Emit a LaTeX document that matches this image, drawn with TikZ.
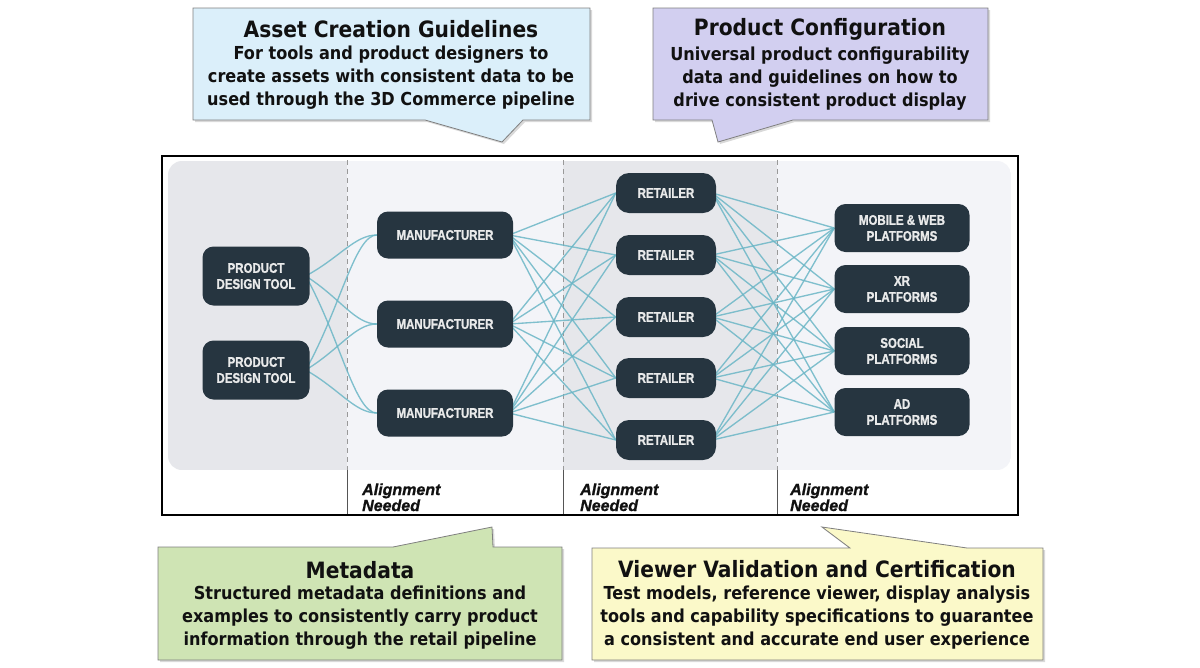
\documentclass[tikz,border=0pt]{standalone}
\usepackage{fontspec}
\setmainfont{DejaVu Sans Condensed}
\newfontfamily\nodefont{Liberation Sans Bold}[FakeBold=1.2, FakeStretch=0.82]
\newfontfamily\algnfont{Liberation Sans Bold Italic}[FakeBold=1]
\usetikzlibrary{shadows,calc}
\definecolor{nodefill}{HTML}{263540}
\definecolor{nodetext}{HTML}{E9EAEA}
\definecolor{linkc}{HTML}{6BB6C6}
\definecolor{bandA}{HTML}{E6E7EB}
\definecolor{bandB}{HTML}{F3F4F8}
\definecolor{cborder}{HTML}{7F7F7F}
\definecolor{cfillA}{HTML}{DBEFFA}
\definecolor{cfillB}{HTML}{D2CFF0}
\definecolor{cfillC}{HTML}{CFE4B4}
\definecolor{cfillD}{HTML}{FBF9C9}
\definecolor{dashc}{HTML}{999999}
\definecolor{solidc}{HTML}{555555}
\definecolor{ctext}{HTML}{111111}
\pgfdeclarelayer{panel}
\pgfdeclarelayer{edges}
\pgfsetlayers{panel,edges,main}
\begin{document}
\begin{tikzpicture}[x=1pt,y=-1pt,
  box/.style={fill=nodefill, rounded corners=11pt, text=nodetext,
    font=\nodefont\fontsize{14}{16}\selectfont, align=center, inner sep=0pt},
  pdt/.style={box, minimum width=107pt, minimum height=59pt},
  mfr/.style={box, minimum width=136pt, minimum height=47pt},
  ret/.style={box, minimum width=100pt, minimum height=40pt, rounded corners=13pt},
  plat/.style={box, minimum width=135pt, minimum height=48pt},
  link/.style={draw=linkc, line width=1.35pt, opacity=0.85},
  callout/.style={draw=cborder, line width=0.8pt,
    drop shadow={shadow xshift=2pt, shadow yshift=-2pt, opacity=0.3}},
  ctitle/.style={text=ctext, font=\bfseries\fontsize{22.5}{25}\selectfont, inner sep=0pt},
  cbody/.style={text=ctext, font=\bfseries\fontsize{17.9}{23}\selectfont, align=center, inner sep=0pt},
  algn/.style={anchor=base west, inner sep=0pt, text=ctext,
    font=\algnfont\fontsize{16}{16}\selectfont},
  dashv/.style={draw=dashc, line width=1pt, dash pattern=on 5pt off 4pt},
  solidv/.style={draw=solidc, line width=1pt}
]
\useasboundingbox (0,0) rectangle (1200,667);

% callouts
\path[callout, fill=cfillA] (193,8) -- (590,8) -- (590,120) -- (523,120) -- (502,142) -- (425,120) -- (193,120) -- cycle;
\node[ctitle] (t1) at (391,29) {Asset Creation Guidelines};
\node[cbody] (b1) at (391,78) {For tools and product designers to\\create assets with consistent data to be\\used through the 3D Commerce pipeline};

\path[callout, fill=cfillB] (653,8) -- (988,8) -- (988,120) -- (793,120) -- (718,142) -- (712,120) -- (653,120) -- cycle;
\node[ctitle] (t2) at (820,29) {Product Configuration};
\node[cbody] (b2) at (820,79) {Universal product configurability\\data and guidelines on how to\\drive consistent product display};

\path[callout, fill=cfillC] (158,547) -- (393,547) -- (492,527) -- (493,547) -- (562,547) -- (562,660) -- (158,660) -- cycle;
\node[ctitle] (t3) at (360,570) {Metadata};
\node[cbody] (b3) at (360,618) {Structured metadata definitions and\\examples to consistently carry product\\information through the retail pipeline};

\path[callout, fill=cfillD] (592,548) -- (850,548) -- (822,527) -- (967,548) -- (1043,548) -- (1043,660) -- (592,660) -- cycle;
\node[ctitle] (t4) at (817,569) {Viewer Validation and Certification};
\node[cbody] (b4) at (817,618) {Test models, reference viewer, display analysis\\tools and capability specifications to guarantee\\a consistent and accurate end user experience};

% frame and panel
\begin{pgfonlayer}{panel}
\fill[white] (162,156) rectangle (1018,515);
\begin{scope}
\clip[rounded corners=14pt] (168,161) rectangle (1011,470);
\fill[bandA] (168,161) rectangle (347,470);
\fill[bandB] (347,161) rectangle (563,470);
\fill[bandA] (563,161) rectangle (777,470);
\fill[bandB] (777,161) rectangle (1011,470);
\end{scope}
\foreach \xx in {347,563,777}{
  \draw[dashv] (\xx,160) -- (\xx,470);
  \draw[solidv] (\xx,470) -- (\xx,515);
}
\end{pgfonlayer}
\draw[line width=1.2pt, draw=black] (162,156) rectangle (1018,515);

% nodes
\node[pdt] (p1) at (256,276) {PRODUCT\\DESIGN TOOL};
\node[pdt] (p2) at (256,370) {PRODUCT\\DESIGN TOOL};
\node[mfr] (m1) at (445,235) {MANUFACTURER};
\node[mfr] (m2) at (445,324) {MANUFACTURER};
\node[mfr] (m3) at (445,413) {MANUFACTURER};
\node[ret] (r1) at (666,193) {RETAILER};
\node[ret] (r2) at (666,255) {RETAILER};
\node[ret] (r3) at (666,317) {RETAILER};
\node[ret] (r4) at (666,378) {RETAILER};
\node[ret] (r5) at (666,440) {RETAILER};
\node[plat] (q1) at (902,228) {MOBILE \& WEB\\PLATFORMS};
\node[plat] (q2) at (902,289) {XR\\PLATFORMS};
\node[plat] (q3) at (902,351) {SOCIAL\\PLATFORMS};
\node[plat] (q4) at (902,412) {AD\\PLATFORMS};

% links
\begin{pgfonlayer}{edges}
\foreach \s in {p1,p2}{
  \foreach \t in {m1,m2,m3}{
    \draw[link] ($(\s.east)+(-4,0)$) .. controls ($(\s.east)!0.45!(\t.west)$) and ($(\t.west)+(-22,0)$) .. (\t.west);
  }
}
\foreach \s in {m1,m2,m3}{
  \foreach \t in {r1,r2,r3,r4,r5}{
    \draw[link] ($(\s.east)+(-4,0)$) -- (\t.west);
  }
}
\foreach \s in {r1,r2,r3,r4,r5}{
  \foreach \t in {q1,q2,q3,q4}{
    \draw[link] ($(\s.east)+(-4,0)$) -- (\t.west);
  }
}
\end{pgfonlayer}

% alignment labels
\node[algn] (a1) at (362,495) {Alignment};
\node[algn] (a1b) at (362,511) {Needed};
\node[algn] (a2) at (580,495) {Alignment};
\node[algn] (a2b) at (580,511) {Needed};
\node[algn] (a3) at (790,495) {Alignment};
\node[algn] (a3b) at (790,511) {Needed};
\end{tikzpicture}
\end{document}
